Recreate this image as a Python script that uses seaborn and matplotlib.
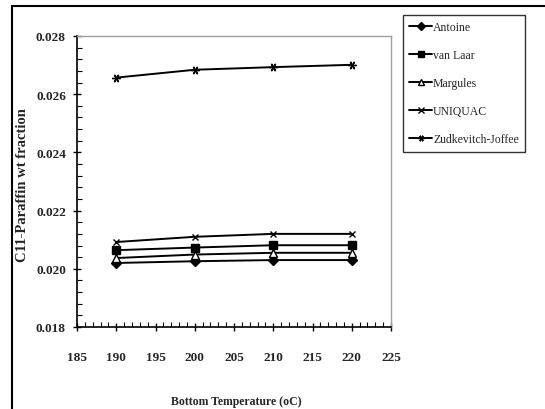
import matplotlib
matplotlib.use("Agg")
import matplotlib.pyplot as plt
import seaborn as sns
import pandas as pd
from matplotlib.patches import Rectangle
from matplotlib.ticker import MultipleLocator, FormatStrFormatter

temps = [190, 200, 210, 220]
antoine = [0.02020, 0.02026, 0.02030, 0.02030]
van_laar = [0.02064, 0.02073, 0.02081, 0.02081]
margules = [0.02037, 0.02049, 0.02055, 0.02055]
uniquac = [0.02092, 0.02110, 0.02120, 0.02120]
zudkevitch = [0.02657, 0.02684, 0.02693, 0.02701]
series_names = ["Antoine", "van Laar", "Margules", "UNIQUAC", "Zudkevitch-Joffee"]
x_ticks = [185, 190, 195, 200, 205, 210, 215, 220, 225]
y_ticks = [0.018, 0.020, 0.022, 0.024, 0.026, 0.028]

rows = []
for name, vals in zip(series_names, [antoine, van_laar, margules, uniquac, zudkevitch]):
    for t, v in zip(temps, vals):
        rows.append({"T": t, "value": v, "model": name})
df = pd.DataFrame(rows)

sns.set_style("white")
plt.rcParams["font.family"] = ["Liberation Serif", "DejaVu Serif"]

fig = plt.figure(figsize=(5.45, 4.10), dpi=100)
ax = fig.add_axes([77/545, 82/410, 314/545, 291/410])

markers = {"Antoine": "D", "van Laar": "s", "Margules": "^", "UNIQUAC": "x",
           "Zudkevitch-Joffee": (6, 2, 90)}
msize = {"Antoine": 5, "van Laar": 6, "Margules": 6, "UNIQUAC": 5, "Zudkevitch-Joffee": 6}
for name in series_names:
    sub = df[df["model"] == name]
    mfc = "white" if name == "Margules" else "black"
    sns.lineplot(data=sub, x="T", y="value", ax=ax, color="black", marker=markers[name],
                 markersize=msize[name], markerfacecolor=mfc, markeredgecolor="black",
                 markeredgewidth=1.0, linewidth=1.4, label=name)

ax.set_xlim(185, 225)
ax.set_ylim(0.018, 0.028)
ax.set_xticks(x_ticks)
ax.set_yticks(y_ticks)
ax.xaxis.set_minor_locator(MultipleLocator(1))
ax.yaxis.set_minor_locator(MultipleLocator(0.0004))
ax.yaxis.set_major_formatter(FormatStrFormatter("%.3f"))
ax.tick_params(axis="both", which="major", direction="inout", length=6, width=1, color="black",
               labelsize=9.5)
ax.tick_params(axis="x", which="major", pad=14)
ax.tick_params(axis="y", which="major", pad=5)
ax.tick_params(axis="both", which="minor", direction="in", length=3.5, width=0.8, color="black")
ax.tick_params(axis="x", which="both", bottom=True)
ax.tick_params(axis="y", which="both", left=True)
for lab in ax.get_xticklabels() + ax.get_yticklabels():
    lab.set_fontweight("bold")

for side in ["top", "right"]:
    ax.spines[side].set_color("#a0a0a0")
    ax.spines[side].set_linewidth(1.0)
for side in ["left", "bottom"]:
    ax.spines[side].set_color("black")
    ax.spines[side].set_linewidth(1.2)

ax.set_xlabel("")
ax.set_ylabel("")
fig.text(236/545, 1 - 402/410, "Bottom Temperature (oC)", ha="center", va="center",
         fontsize=8.5, fontweight="bold")
fig.text(23/545, 1 - 185/410, "C11-Paraffin wt fraction", ha="center", va="center",
         rotation=90, fontsize=10.5, fontweight="bold")

leg = ax.legend(loc="upper left", bbox_to_anchor=(403/545, 1 - 16/410),
                bbox_transform=fig.transFigure, frameon=True, fancybox=False,
                fontsize=8.5, labelspacing=1.35, handlelength=1.9, handletextpad=0.1,
                borderpad=0.55, borderaxespad=0)
leg.get_frame().set_edgecolor("black")
leg.get_frame().set_linewidth(1.0)
for h in leg.legend_handles:
    h.set_markersize(h.get_markersize() * 0.75)

fig.patches.append(Rectangle((12/545, -0.05), 1.2, 1 - 7/410 + 0.05, transform=fig.transFigure,
                             fill=False, edgecolor="black", linewidth=1.5))

fig.savefig("out.png", dpi=100)
